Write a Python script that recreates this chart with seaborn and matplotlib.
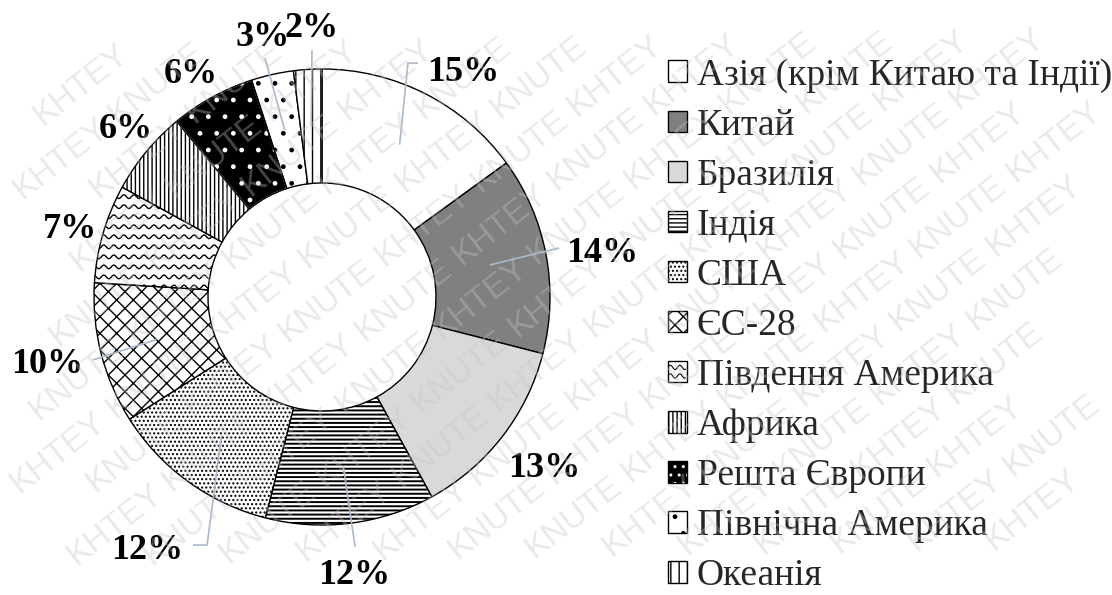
import numpy as np
import matplotlib
matplotlib.use("Agg")
import matplotlib.pyplot as plt
import seaborn as sns
from matplotlib.patches import Patch, Wedge, Rectangle
from matplotlib.collections import LineCollection
from matplotlib.legend_handler import HandlerBase
from matplotlib.lines import Line2D
from matplotlib.font_manager import FontProperties

# ---------------- data ----------------
regions = ["Азія (крім Китаю та Індії)", "Китай", "Бразилія", "Індія", "США", "ЄС-28",
           "Південня Америка", "Африка", "Решта Європи", "Північна Америка", "Океанія"]
shares = [15, 14, 13, 12, 12, 10, 7, 6, 6, 3, 2]
pct_labels = [f"{v}%" for v in shares]

# ---------------- styles ----------------
face = ["white", "#808080", "#D9D9D9", "white", "white", "white", "white", "white",
        "black", "white", "white"]
hatches = [None, None, None, "----", "....", "xx", None, "||||", ".", ".", "||"]
hatch_col = ["black"] * 8 + ["white", "black", "black"]
# label centres (in donut-radius units) and leader line elbow/end points
label_pos = [(0.618, 1.000), (1.228, 0.206), (0.974, -0.737), (0.140, -1.206),
             (-0.768, -1.096), (-1.206, -0.281), (-1.105, 0.311), (-0.860, 0.750),
             (-0.575, 0.991), (-0.259, 1.154), (-0.044, 1.193)]
leaders = [[(0.377, 1.026), (0.421, 1.026)], [(1.039, 0.215)], None, [(0.145, -1.096)],
           [(-0.504, -1.088), (-0.566, -1.088)], [(-1.004, -0.276)], None, None, None,
           [(-0.250, 1.048)], [(-0.044, 1.083)]]
leader_color = "#A9B8CA"
watermark_words = ["KHTEY", "KNUTE"]

sns.set_theme(style="white")
plt.rcParams["font.family"] = ["Liberation Serif", "DejaVu Serif"]
plt.rcParams["hatch.linewidth"] = 1.0

W, H = 1112, 595
fig = plt.figure(figsize=(W / 100, H / 100), dpi=100)
fig.patch.set_facecolor("white")
cx, cy, R = 322, 297, 228
xl, yl = 1.41, 1.30
ax = fig.add_axes([(cx - xl * R) / W, (H - cy - yl * R) / H, 2 * xl * R / W, 2 * yl * R / H])

wedges, _ = ax.pie(shares, startangle=90, counterclock=False, radius=1.0,
                   wedgeprops=dict(width=0.5, edgecolor="black", linewidth=1.0))
ax.set_xlim(-xl, xl)
ax.set_ylim(-yl, yl)
ax.set_aspect("auto")
ax.axis("off")

for i, w in enumerate(wedges):
    w.set_facecolor(face[i])
    if hatches[i]:
        w.set_hatch(hatches[i])
    if hatch_col[i] != "black":
        w.set_edgecolor(hatch_col[i])
        ax.add_patch(Wedge(w.center, w.r, w.theta1, w.theta2, width=w.width,
                           fill=False, edgecolor="black", linewidth=1.0, zorder=w.get_zorder() + 0.1))
    if i == 3 and hasattr(w, "set_hatch_linewidth"):
        w.set_hatch_linewidth(1.4)

# wave texture for "Південня Америка"
wv = wedges[6]
segs = []
per, amp, gap = 0.044, 0.008, 0.044
xs = np.linspace(-1.1, 1.1, 900)
for y0 in np.arange(-1.1, 1.1, gap):
    segs.append(np.column_stack([xs, y0 + amp * np.sin(2 * np.pi * xs / per)]))
lc = LineCollection(segs, colors="black", linewidths=1.0, zorder=wv.get_zorder() + 0.05)
ax.add_collection(lc)
lc.set_clip_path(wv)

# percentage labels + leader lines
for i, w in enumerate(wedges):
    mid = np.deg2rad((w.theta1 + w.theta2) / 2)
    if leaders[i]:
        pts = [(0.75 * np.cos(mid), 0.75 * np.sin(mid))] + leaders[i]
        px, py = zip(*pts)
        ax.plot(px, py, color=leader_color, lw=1.2, zorder=5, solid_capstyle="butt")
    ax.text(label_pos[i][0], label_pos[i][1] - 0.015, pct_labels[i], ha="center", va="center",
            fontsize=26, fontweight="bold", family="Liberation Serif", color="black", zorder=6)

# legend
class WaveHandler(HandlerBase):
    def create_artists(self, legend, orig_handle, xdescent, ydescent, width, height, fontsize, trans):
        x0, y0 = -xdescent, -ydescent
        arts = [Rectangle((x0, y0), width, height, facecolor="white", edgecolor="black",
                          lw=1.0, transform=trans)]
        for frac in (0.3, 0.7):
            xx = np.linspace(x0 + 1, x0 + width - 1, 40)
            yy = y0 + frac * height + 0.1 * height * np.sin((xx - x0) / width * 2 * np.pi * 2)
            arts.append(Line2D(xx, yy, color="black", lw=0.8, transform=trans))
        return arts

wave_key = object()
handles = []
for i in range(len(regions)):
    if i == 6:
        handles.append(wave_key)
    elif hatch_col[i] != "black":
        handles.append((Patch(facecolor=face[i], edgecolor=hatch_col[i], hatch="..", lw=0),
                        Patch(fill=False, edgecolor="black", lw=1.0)))
    else:
        handles.append(Patch(facecolor=face[i], edgecolor="black", hatch=hatches[i], lw=1.0))

fs = 27
fpx = fs * 100 / 72
fig.legend(handles, regions, handler_map={wave_key: WaveHandler()},
           loc="upper left", bbox_to_anchor=(668 / W, 1 - 58 / H), frameon=False,
           prop=FontProperties(family="Liberation Serif", size=fs),
           handlelength=19 / fpx, handleheight=19 / fpx,
           handletextpad=10 / fpx, labelspacing=0.415, borderpad=0, borderaxespad=0)

# faint diagonal watermark (whole words only, kept inside the figure)
ang = 38
d = np.array([np.cos(np.deg2rad(ang)), np.sin(np.deg2rad(ang))])
pp = np.array([-d[1], d[0]])
step, rowgap, half_len, half_h = 122, 46, 54, 14
for r in range(-20, 21):
    for c in range(-20, 21):
        p = np.array([W / 2, H / 2]) + pp * r * rowgap + d * (c * step + (r % 2) * step / 2)
        corners = [p + sx * half_len * d + sy * half_h * pp for sx in (-1, 1) for sy in (-1, 1)]
        if all(3 < q[0] < W - 3 and 3 < q[1] < H - 3 for q in corners):
            fig.text(p[0] / W, p[1] / H, watermark_words[(c + r) % 2], rotation=ang,
                     rotation_mode="anchor", ha="center", va="center", fontsize=24,
                     family="Liberation Sans", color="#C4C4C4", alpha=0.36, zorder=20)

fig.savefig("out.png", dpi=100, facecolor="white")
